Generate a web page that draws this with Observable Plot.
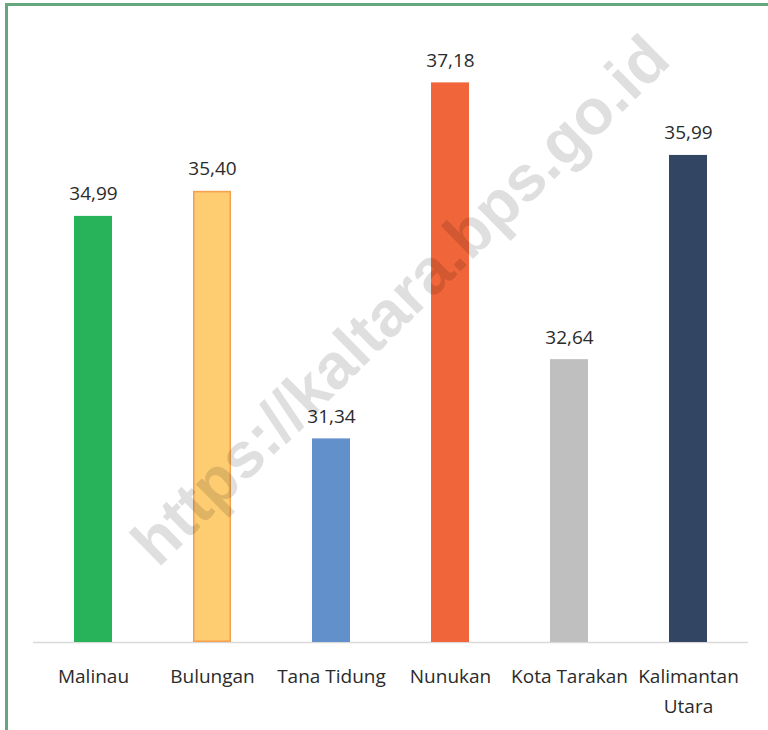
<!DOCTYPE html>
<html>
<head>
<meta charset="utf-8">
<script src="https://cdn.jsdelivr.net/npm/d3@7"></script>
<script src="https://cdn.jsdelivr.net/npm/@observablehq/plot@0.6"></script>
<style>
  html, body { margin: 0; padding: 0; background: #fff; }
  #wrap { position: relative; width: 768px; height: 730px; overflow: hidden; }
  #chart { position: absolute; left: 0; top: 0; }
  #frame { position: absolute; left: 5px; top: 3px; width: 800px; height: 800px;
           border-top: 3px solid #62a87c; border-left: 3px solid #62a87c; pointer-events: none; }
  #wm { position: absolute; left: 400px; top: 300px; transform: translate(-50%, -50%) rotate(-44.5deg);
        font-family: "Liberation Sans", Arial, sans-serif; font-weight: bold; font-size: 64px;
        color: #000; opacity: 0.12; white-space: nowrap; pointer-events: none; line-height: 1; }
</style>
</head>
<body>
<div id="wrap">
  <div id="chart"></div>
  <div id="frame"></div>
  <div id="wm">https://kaltara.bps.go.id</div>
</div>
<script>
const categories = ["Malinau", "Bulungan", "Tana Tidung", "Nunukan", "Kota Tarakan", "Kalimantan Utara"];
const values = [34.99, 35.40, 31.34, 37.18, 32.64, 35.99];
const tickLabels = ["Malinau", "Bulungan", "Tana Tidung", "Nunukan", "Kota Tarakan", "Kalimantan\nUtara"];
const palette = ["#28b35b", "#fecd72", "#6190ca", "#f06539", "#bfbfbf", "#324664"];
const BASE = 28;
const TOP = 38;

const data = categories.map((name, i) => ({name, value: values[i]}));
const fmt = v => v.toFixed(2).replace(".", ",");
const font = "'Open Sans', 'Noto Sans', sans-serif";

const plot = Plot.plot({
  width: 768,
  height: 730,
  marginLeft: 33,
  marginRight: 20,
  marginTop: 32.4,
  marginBottom: 88,
  style: {fontFamily: font, background: "transparent"},
  x: {domain: categories, paddingInner: 0.68, paddingOuter: 0.34},
  y: {domain: [BASE, TOP], axis: null},
  color: {domain: categories, range: palette},
  marks: [
    Plot.ruleY([BASE], {stroke: "#d9d9d9", strokeWidth: 1.5}),
    Plot.barY(data, {x: "name", y1: BASE, y2: "value", fill: "name"}),
    Plot.barY(data.filter(d => d.name === "Bulungan"), {x: "name", y1: BASE, y2: "value", fill: "none", stroke: "#f6a04d", strokeWidth: 1.5, inset: 0.75}),
    Plot.text(data, {x: "name", y: "value", text: d => fmt(d.value), dy: -16, lineAnchor: "bottom", fontSize: 19, fill: "#2b2b2b"}),
    Plot.axisX({tickSize: 0, tickPadding: 20, fontSize: 19, lineHeight: 1.55, color: "#2b2b2b",
      tickFormat: d => tickLabels[categories.indexOf(d)], label: null})
  ]
});
document.getElementById("chart").appendChild(plot);
</script>
</body>
</html>
